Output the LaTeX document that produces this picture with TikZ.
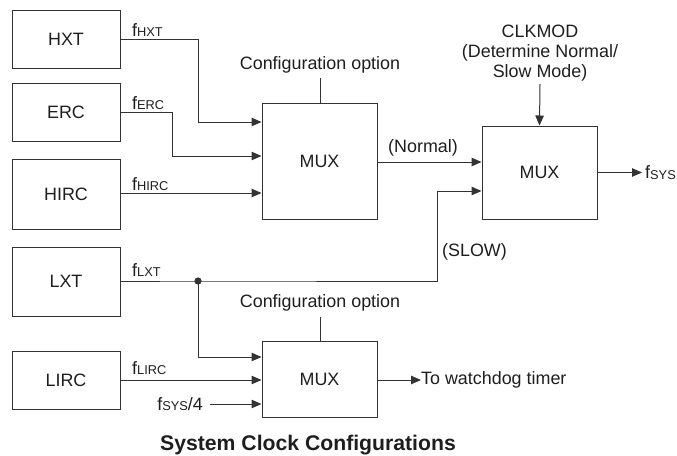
\documentclass[tikz,border=0pt]{standalone}
\usepackage{fontspec}
\setmainfont{Liberation Sans}
\usetikzlibrary{arrows.meta,calc}
\newcommand\fsb[1]{f{\fontsize{12.8}{13}\selectfont\raisebox{-0.8pt}{#1}}}
\definecolor{ln}{HTML}{333333}
\definecolor{tx}{HTML}{1E1E1E}
\begin{document}
\begin{tikzpicture}[x=1pt,y=-1pt,
  every node/.style={text=tx,font=\fontsize{17.9}{20}\selectfont},
  blk/.style={draw=ln,line width=1pt,inner sep=0pt},
  wire/.style={draw=ln,line width=1pt},
  arr/.style={wire,-{Triangle[length=10pt,width=8.5pt]}},
  lbl/.style={inner sep=0pt,anchor=west},
  ctr/.style={inner sep=0pt}]
\useasboundingbox (0,0) rectangle (677,455);
% source blocks
\node[blk,minimum width=108pt,minimum height=58pt] (hxt) at (66,39) {HXT};
\node[blk,minimum width=108pt,minimum height=58pt] (erc) at (66,112) {ERC};
\node[blk,minimum width=108pt,minimum height=70pt] (hirc) at (66,194) {HIRC};
\node[blk,minimum width=108pt,minimum height=69pt] (lxt) at (66,281.5) {LXT};
\node[blk,minimum width=108pt,minimum height=58pt] (lirc) at (66,380) {LIRC};
% muxes
\node[blk,minimum width=115pt,minimum height=116pt] (mux1) at (319.5,161) {MUX};
\node[blk,minimum width=115pt,minimum height=93pt] (mux2) at (539.5,172.5) {MUX};
\node[blk,minimum width=115pt,minimum height=76pt] (mux3) at (319.5,379) {MUX};
% labels
\node[lbl] (lhxt) at (132,30) {\fsb{HXT}};
\node[lbl] (lerc) at (132,103) {\fsb{ERC}};
\node[lbl] (lhirc) at (132,184) {\fsb{HIRC}};
\node[lbl] (llxt) at (132,270) {\fsb{LXT}};
\node[lbl] (llirc) at (132,368) {\fsb{LIRC}};
\node[lbl] (lnorm) at (388,148) {(Normal)};
\node[lbl] (lslow) at (442,252) {(SLOW)};
\node[ctr] (cfg1) at (320,65) {Configuration option};
\node[ctr] (cfg2) at (320,303) {Configuration option};
\node[ctr,align=center,font=\fontsize{17.9}{20}\selectfont] (clk) at (540,53) {CLKMOD\\(Determine Normal/\\Slow Mode)};
\node[lbl,anchor=east] (fs4) at (203,404) {\fsb{SYS}/4};
\node[lbl] (fsys) at (645,172.5) {\fsb{SYS}};
\node[lbl] (wdt) at (421,380) {To watchdog timer};
\node[ctr,font=\fontsize{21.2}{24}\selectfont\bfseries] (title) at (308,445) {System Clock Configurations};
% coordinates
\coordinate (dot) at (198,281);
\coordinate (c1) at (320,78);
\coordinate (c2) at (320,317);
\coordinate (ck) at (540,84);
% wires
\draw[arr] (hxt.east |- 0,39) -| (198,122) -- (mux1.west |- 0,122);
\draw[arr] (erc.east |- 0,112) -| (172,156) -- (mux1.west |- 0,156);
\draw[arr] (hirc.east |- 0,193) -- (mux1.west |- 0,193);
\draw[arr] (mux1.east |- 0,162) -- (mux2.west |- 0,162);
\draw[arr] (lxt.east |- dot) -- (dot) -- (437,281) |- (mux2.west |- 0,191);
\draw[arr] (dot) |- (mux3.west |- 0,357);
\draw[arr] (lirc.east |- 0,380) -- (mux3.west |- 0,380);
\draw[arr] ($(fs4.east)+(7,0)$) -- (mux3.west |- fs4);
\draw[arr] (mux3.east |- 0,380) -- (wdt.west);
\draw[arr] (mux2.east) -- ($(fsys.west)+(-3,0)$);
\draw[arr] (ck) -- (mux2.north);
\draw[wire] (c1) -- (mux1.north -| c1);
\draw[wire] (c2) -- (mux3.north -| c2);
\fill[ln] (dot) circle (3.6pt);
\end{tikzpicture}
\end{document}
